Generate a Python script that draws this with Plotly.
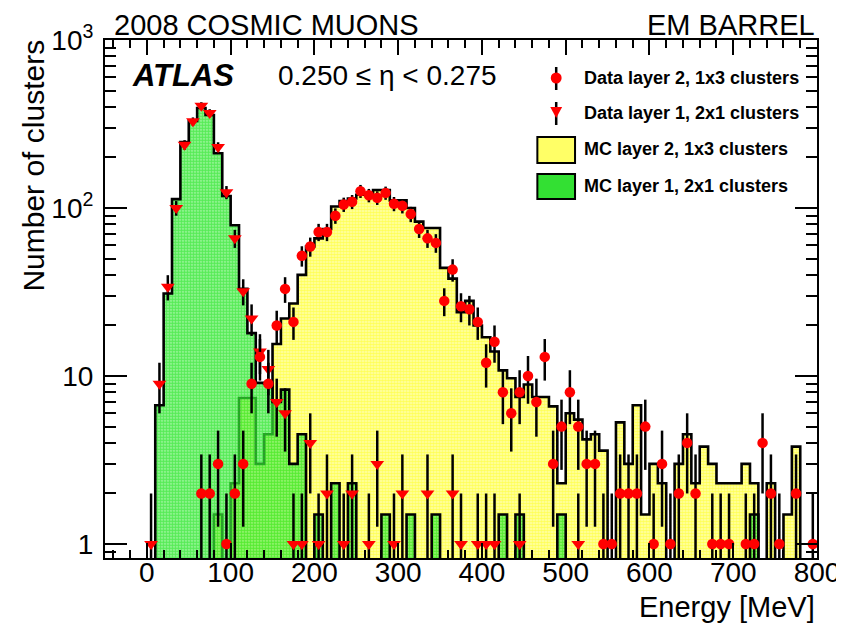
import math
import plotly.graph_objects as go

# ---------------- data (10 MeV bins, lower edges 0 ... 790) ----------------
BIN_WIDTH = 10
bin_low = list(range(0, 800, BIN_WIDTH))

# MC layer 2, 1x3 clusters (yellow)
mc_layer2 = [
    0, 0, 0, 0, 0, 0, 0, 0, 1.5, 0,            # 0-90
    2.3, 7.4, 7.4, 3.0, 4.5, 15.5, 22, 27, 40, 59,   # 100-190
    66, 75, 102, 110, 114, 120, 120, 128, 128, 111,  # 200-290
    111, 100, 83, 76, 76, 44, 38, 24, 28, 20,        # 300-390
    17, 14, 10.8, 9.7, 7.5, 8.9, 7.5, 7.5, 6.6, 2.3, # 400-490
    6.0, 5.5, 4.2, 4.5, 3.6, 0, 5.3, 3.0, 6.7, 1.5,  # 500-590
    3.0, 2.3, 0, 3.0, 4.5, 2.3, 3.8, 3.0, 2.3, 2.3,  # 600-690
    2.3, 3.0, 2.3, 0, 2.3, 0, 1.5, 3.8, 0, 0,        # 700-790
]

# MC layer 1, 2x1 clusters (green)
mc_layer1 = [
    0, 6.7, 31, 113, 247, 330, 394, 358, 212, 118,   # 0-90
    79, 33, 18, 9.1, 9.0, 7.0, 8.3, 3.0, 4.5, 0,     # 100-190
    1.5, 0, 2.3, 0, 2.3, 0, 0, 0, 1.5, 0,            # 200-290
    0, 1.5, 0, 0, 1.5, 0, 0, 0, 0, 0,                # 300-390
    0, 0, 1.5, 0, 1.5, 0, 0, 0, 0, 1.5,              # 400-490
    0, 0, 0, 0, 0, 0, 0, 0, 0, 0,                    # 500-590
    0, 0, 0, 0, 0, 0, 0, 0, 0, 0,                    # 600-690
    0, 0, 1.5, 0, 0, 0, 0, 0, 0, 0,                  # 700-790
]

# Data layer 2, 1x3 clusters (red circles)
data_layer2 = [
    0, 0, 0, 0, 0, 0, 2, 2, 3, 1,                    # 0-90
    2, 3, 9, 13, 9, 20, 33, 21, 52, 59,              # 100-190
    72, 72, 90, 105, 109, 126, 119, 115, 123, 106,   # 200-290
    103, 92, 75, 66, 62, 28, 43, 26, 25, 21,         # 300-390
    12, 16, 8, 6, 8, 10, 7, 13, 3, 5,                # 400-490
    8, 5, 3, 3, 1, 1, 2, 2, 2, 5,                    # 500-590
    1, 3, 1, 2, 4, 2, 0, 1, 1, 1,                    # 600-690
    0, 1, 1, 4, 2, 1, 0, 2, 0, 1,                    # 700-790
]

# Data layer 1, 2x1 clusters (red down-triangles)
data_layer1 = [
    1, 9, 34, 100, 238, 328, 406, 368, 231, 124,     # 0-90
    66, 32, 22, 14, 11, 7, 6, 1, 1, 4,               # 100-190
    1, 2, 0, 1, 2, 0, 1, 3, 0, 1,                    # 200-290
    2, 0, 0, 2, 0, 0, 2, 1, 0, 1,                    # 300-390
    1, 1, 0, 0, 1, 0, 0, 0, 0, 0,                    # 400-490
    0, 1, 0, 0, 0, 0, 0, 0, 0, 0,                    # 500-590
    0, 0, 0, 0, 0, 0, 0, 0, 0, 0,                    # 600-690
    0, 0, 0, 0, 0, 0, 0, 0, 0, 0,                    # 700-790
]

series_names = [
    "Data layer 2, 1x3 clusters",
    "Data layer 1, 2x1 clusters",
    "MC layer 2, 1x3 clusters",
    "MC layer 1, 2x1 clusters",
]

x_range = [-50, 800]
y_min, y_max = 0.826, 1000
y_tick_vals = [1, 10, 100, 1000]
y_tick_text = ["1", "10", "10<sup>2</sup>", "10<sup>3</sup>"]

# ---------------- styling ----------------
FONT = "Liberation Sans, Arial, Helvetica, sans-serif"
RED = "#ff0000"

# plot-area geometry in pixels (for text / legend placement)
L, R, T, B = 97, 815, 32, 550


def px(x):
    return (x - L) / (R - L)


def py(y):
    return (B - y) / (B - T)


edges = bin_low + [bin_low[-1] + BIN_WIDTH]
FLOOR = 1e-2  # empty bins drop below the visible axis


def step_y(values):
    ys = [v if v > 0 else FLOOR for v in values]
    return ys + [ys[-1]]


def points(values):
    xs = [lo + BIN_WIDTH / 2 for lo, v in zip(bin_low, values) if v > 0]
    ys = [v for v in values if v > 0]
    errs = [math.sqrt(v) for v in ys]
    return xs, ys, errs


fig = go.Figure()

fig.add_trace(go.Scatter(
    x=edges, y=step_y(mc_layer2), mode="lines", name=series_names[2],
    line=dict(shape="hv", color="black", width=2.6),
    fill="tozeroy", fillcolor="#ffff66",
    fillpattern=dict(shape=".", fgcolor="#ffff00", bgcolor="#ffffb0", size=3, solidity=0.62),
    showlegend=False, hoverinfo="skip",
))

fig.add_trace(go.Scatter(
    x=edges, y=step_y(mc_layer1), mode="lines", name=series_names[3],
    line=dict(shape="hv", color="black", width=2.6),
    fill="tozeroy", fillcolor="rgba(0,230,0,0.8)",
    fillpattern=dict(shape=".", fgcolor="#00e000", bgcolor="rgba(110,240,110,0.55)", size=3, solidity=0.75),
    showlegend=False, hoverinfo="skip",
))

x1, y1, e1 = points(data_layer1)
fig.add_trace(go.Scatter(
    x=x1, y=y1, mode="markers", name=series_names[1],
    marker=dict(symbol="triangle-down", size=12, color=RED, line=dict(width=0)),
    error_y=dict(type="data", array=e1, color="black", thickness=2.5, width=0),
    showlegend=False,
))

x2, y2, e2 = points(data_layer2)
fig.add_trace(go.Scatter(
    x=x2, y=y2, mode="markers", name=series_names[0],
    marker=dict(symbol="circle", size=10.5, color=RED, line=dict(width=0)),
    error_y=dict(type="data", array=e2, color="black", thickness=2.5, width=0),
    showlegend=False,
))

minor_y = [0.9] + [k * 10 ** d for d in range(0, 3) for k in range(2, 10)]

fig.update_xaxes(
    range=x_range, tick0=0, dtick=100,
    ticks="inside", ticklen=15, tickwidth=1.5, tickcolor="black",
    minor=dict(ticks="inside", ticklen=8, tickwidth=1.5, tickcolor="black", tick0=0, dtick=20),
    showline=True, linewidth=2, linecolor="black", mirror="ticks",
    showgrid=False, zeroline=False,
    tickfont=dict(family=FONT, size=28, color="black"),
)
try:
    fig.update_xaxes(ticklabelstandoff=-12)
except ValueError:
    fig.update_xaxes(ticklabelstandoff=0)

fig.update_yaxes(
    type="log", range=[math.log10(y_min), math.log10(y_max)],
    tickmode="array", tickvals=y_tick_vals, ticktext=y_tick_text,
    ticks="inside", ticklen=22, tickwidth=1.5, tickcolor="black",
    minor=dict(ticks="inside", ticklen=11, tickwidth=1.5, tickcolor="black",
               tickmode="array", tickvals=minor_y),
    showline=True, linewidth=2, linecolor="black", mirror="ticks",
    showgrid=False, zeroline=False,
    tickfont=dict(family=FONT, size=28, color="black"),
    ticklabelstandoff=4,
)

annotations = [
    dict(text="2008 COSMIC MUONS", x=px(104), y=py(17), xanchor="left", yanchor="middle",
         font=dict(size=29)),
    dict(text="EM BARREL", x=1.0, y=py(17), xanchor="right", yanchor="middle",
         font=dict(size=29)),
    dict(text="<b><i>ATLAS</i></b>", x=px(122), y=py(68), xanchor="left", yanchor="middle",
         font=dict(size=31)),
    dict(text="0.250 \u2264 \u03b7 < 0.275", x=px(269), y=py(68), xanchor="left", yanchor="middle",
         font=dict(size=28)),
    dict(text="Energy [MeV]", x=1.0, y=py(599), xanchor="right", yanchor="middle",
         font=dict(size=29)),
    dict(text="Number of clusters", x=px(24), y=py(30), xanchor="center", yanchor="top",
         textangle=-90, font=dict(size=30)),
]

# manual legend (ROOT style)
leg_rows = [70, 105, 141, 178]
for name, yc in zip(series_names, leg_rows):
    annotations.append(dict(text="<b>" + name + "</b>", x=px(578), y=py(yc),
                            xanchor="left", yanchor="middle", font=dict(size=18)))

for a in annotations:
    a.update(xref="paper", yref="paper", showarrow=False)
    a["font"].update(family=FONT, color="black")

shapes = [
    # data layer 2 symbol
    dict(type="line", x0=px(552), x1=px(552), y0=py(59), y1=py(82),
         line=dict(color="black", width=2.5)),
    dict(type="circle", x0=px(546.5), x1=px(557.5), y0=py(75.5), y1=py(64.5),
         fillcolor=RED, line=dict(width=0)),
    # data layer 1 symbol
    dict(type="line", x0=px(552), x1=px(552), y0=py(94), y1=py(117),
         line=dict(color="black", width=2.5)),
    dict(type="path",
         path=f"M {px(546)},{py(99)} L {px(558)},{py(99)} L {px(552)},{py(110)} Z",
         fillcolor=RED, line=dict(width=0)),
    # MC boxes
    dict(type="rect", x0=px(533), x1=px(571), y0=py(155), y1=py(129),
         fillcolor="#ffff66", line=dict(color="black", width=2)),
    dict(type="rect", x0=px(533), x1=px(571), y0=py(191), y1=py(166),
         fillcolor="#33e033", line=dict(color="black", width=2)),
]
for s in shapes:
    s.update(xref="paper", yref="paper", layer="above")

fig.update_layout(
    width=844, height=624,
    margin=dict(l=L, r=844 - R, t=T, b=624 - B),
    paper_bgcolor="white", plot_bgcolor="white",
    font=dict(family=FONT, color="black"),
    annotations=annotations, shapes=shapes,
    showlegend=False,
)

fig.write_html("out.html")
